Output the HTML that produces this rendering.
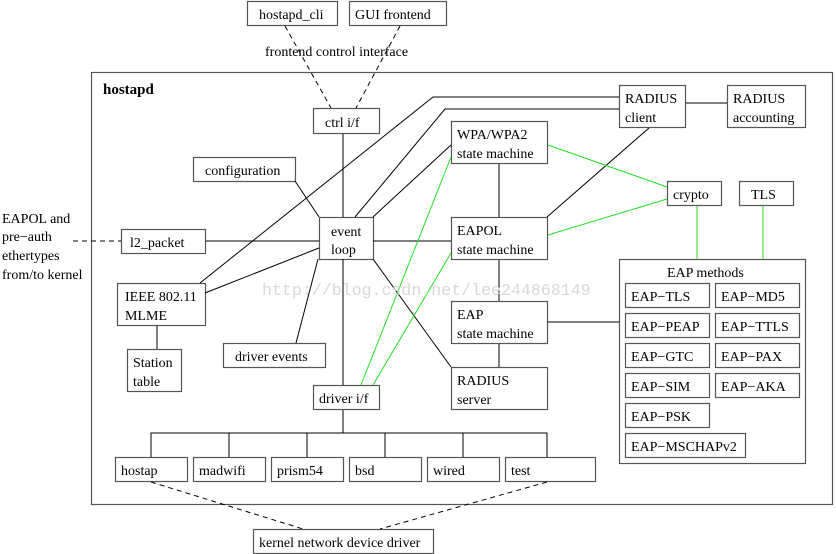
<!DOCTYPE html>
<html><head><meta charset="utf-8"><style>
html,body{margin:0;padding:0;background:#fff;width:836px;height:554px;overflow:hidden}
svg text{font-family:"Liberation Serif",serif;font-size:14px;fill:#000}
</style></head><body>
<svg width="836" height="554" xmlns="http://www.w3.org/2000/svg">
<g fill="#fff" stroke="#555" stroke-width="1.2">
<rect x="91.5" y="72.5" width="741" height="432" fill="none"/>
<rect x="247.5" y="1.5" width="90" height="24"/>
<rect x="349.5" y="1.5" width="97" height="24"/>
<rect x="313.5" y="108.5" width="66" height="25"/>
<rect x="193.5" y="157.5" width="102" height="24"/>
<rect x="121.5" y="229.5" width="84" height="24"/>
<rect x="117.5" y="283.5" width="88" height="42"/>
<rect x="127.5" y="349.5" width="54" height="42"/>
<rect x="223.5" y="343.5" width="102" height="24"/>
<rect x="313.5" y="385.5" width="66" height="24"/>
<rect x="619.5" y="85.5" width="66" height="42"/>
<rect x="727.5" y="85.5" width="78" height="42"/>
<rect x="451.5" y="121.5" width="96" height="42"/>
<rect x="451.5" y="217.5" width="96" height="42"/>
<rect x="451.5" y="301.5" width="96" height="42"/>
<rect x="451.5" y="367.5" width="96" height="42"/>
<rect x="667.5" y="181.5" width="54" height="24"/>
<rect x="739.5" y="181.5" width="54" height="24"/>
<rect x="619.5" y="259.5" width="186" height="204"/>
<rect x="625.5" y="283.5" width="84" height="24"/><rect x="715.5" y="283.5" width="84" height="24"/>
<rect x="625.5" y="313.5" width="84" height="24"/><rect x="715.5" y="313.5" width="84" height="24"/>
<rect x="625.5" y="343.5" width="84" height="24"/><rect x="715.5" y="343.5" width="84" height="24"/>
<rect x="625.5" y="373.5" width="84" height="24"/><rect x="715.5" y="373.5" width="84" height="24"/>
<rect x="625.5" y="403.5" width="84" height="24"/>
<rect x="625.5" y="433.5" width="120" height="24"/>
<rect x="115.5" y="457.5" width="72" height="24"/>
<rect x="193.5" y="457.5" width="72" height="24"/>
<rect x="271.5" y="457.5" width="72" height="24"/>
<rect x="349.5" y="457.5" width="72" height="24"/>
<rect x="427.5" y="457.5" width="72" height="24"/>
<rect x="505.5" y="457.5" width="90" height="24"/>
<rect x="253.5" y="529.5" width="180" height="24"/>
<rect x="319.5" y="217.5" width="54" height="42"/>
</g>
<g stroke="#000" stroke-width="1" fill="none">
<line x1="343" y1="134" x2="343" y2="217"/>
<line x1="295" y1="181" x2="319" y2="217"/>
<line x1="206" y1="241" x2="319" y2="241"/>
<line x1="373" y1="241" x2="451" y2="241"/>
<polyline points="200,283 433,97 619,97"/>
<polyline points="355,217 445,109 619,109"/>
<line x1="373" y1="217" x2="451" y2="145"/>
<line x1="205" y1="293" x2="319" y2="248"/>
<line x1="343" y1="259" x2="343" y2="385"/>
<line x1="318" y1="259" x2="296" y2="343"/>
<line x1="373" y1="259" x2="451" y2="367"/>
<line x1="157" y1="326" x2="157" y2="349"/>
<line x1="686" y1="103" x2="727" y2="103"/>
<line x1="649" y1="128" x2="547" y2="217"/>
<line x1="499" y1="164" x2="499" y2="217"/>
<line x1="499" y1="260" x2="499" y2="301"/>
<line x1="499" y1="344" x2="499" y2="367"/>
<line x1="548" y1="322" x2="619" y2="322"/>
<line x1="343" y1="410" x2="343" y2="433"/>
<polyline points="151,457 151,433 547,433 547,457"/>
<line x1="229" y1="433" x2="229" y2="457"/>
<line x1="307" y1="433" x2="307" y2="457"/>
<line x1="385" y1="433" x2="385" y2="457"/>
<line x1="463" y1="433" x2="463" y2="457"/>
</g>
<g stroke="#000" stroke-width="1" stroke-dasharray="5,4" fill="none">
<line x1="285" y1="26" x2="331" y2="108"/>
<line x1="400" y1="26" x2="356" y2="108"/>
<line x1="73" y1="241" x2="121" y2="241"/>
<line x1="151" y1="482" x2="303" y2="529"/>
<line x1="547" y1="482" x2="380" y2="529"/>
</g>
<g stroke="#22e022" stroke-width="1" fill="none">
<line x1="361" y1="385" x2="451" y2="157"/>
<line x1="373" y1="385" x2="451" y2="253"/>
<line x1="548" y1="145" x2="667" y2="187"/>
<line x1="548" y1="235" x2="667" y2="199"/>
<line x1="697" y1="206" x2="697" y2="259"/>
<line x1="763" y1="206" x2="763" y2="259"/>
</g>
<text x="262" y="295" style="font-family:'Liberation Mono',monospace;font-size:16.6px;fill:#d8d8d8">http://blog.csdn.net/lee244868149</text>
<text x="259" y="19">hostapd_cli</text>
<text x="355" y="19">GUI frontend</text>
<text x="265" y="56">frontend control interface</text>
<text x="103" y="94" style="font-weight:bold;font-size:15px">hostapd</text>
<text x="325" y="127">ctrl i/f</text>
<text x="205" y="175">configuration</text>
<text x="331" y="236">event</text><text x="331" y="254">loop</text>
<text x="130" y="247">l2_packet</text>
<text x="2" y="223">EAPOL and</text><text x="2" y="241">pre−auth</text><text x="2" y="260">ethertypes</text><text x="2" y="279">from/to kernel</text>
<text x="125" y="301">IEEE 802.11</text><text x="125" y="320">MLME</text>
<text x="133" y="367">Station</text><text x="133" y="386">table</text>
<text x="235" y="361">driver events</text>
<text x="319" y="403">driver i/f</text>
<text x="625" y="103">RADIUS</text><text x="625" y="122">client</text>
<text x="733" y="103">RADIUS</text><text x="733" y="122">accounting</text>
<text x="457" y="139">WPA/WPA2</text><text x="457" y="158">state machine</text>
<text x="457" y="235">EAPOL</text><text x="457" y="254">state machine</text>
<text x="457" y="319">EAP</text><text x="457" y="338">state machine</text>
<text x="457" y="385">RADIUS</text><text x="457" y="404">server</text>
<text x="673" y="199">crypto</text>
<text x="751" y="199">TLS</text>
<text x="667" y="277">EAP methods</text>
<text x="631" y="301">EAP−TLS</text><text x="721" y="301">EAP−MD5</text>
<text x="631" y="331">EAP−PEAP</text><text x="721" y="331">EAP−TTLS</text>
<text x="631" y="361">EAP−GTC</text><text x="721" y="361">EAP−PAX</text>
<text x="631" y="391">EAP−SIM</text><text x="721" y="391">EAP−AKA</text>
<text x="631" y="421">EAP−PSK</text>
<text x="631" y="451">EAP−MSCHAPv2</text>
<text x="121" y="475">hostap</text>
<text x="199" y="475">madwifi</text>
<text x="277" y="475">prism54</text>
<text x="355" y="475">bsd</text>
<text x="433" y="475">wired</text>
<text x="511" y="475">test</text>
<text x="259" y="547">kernel network device driver</text>
</svg>
</body></html>
